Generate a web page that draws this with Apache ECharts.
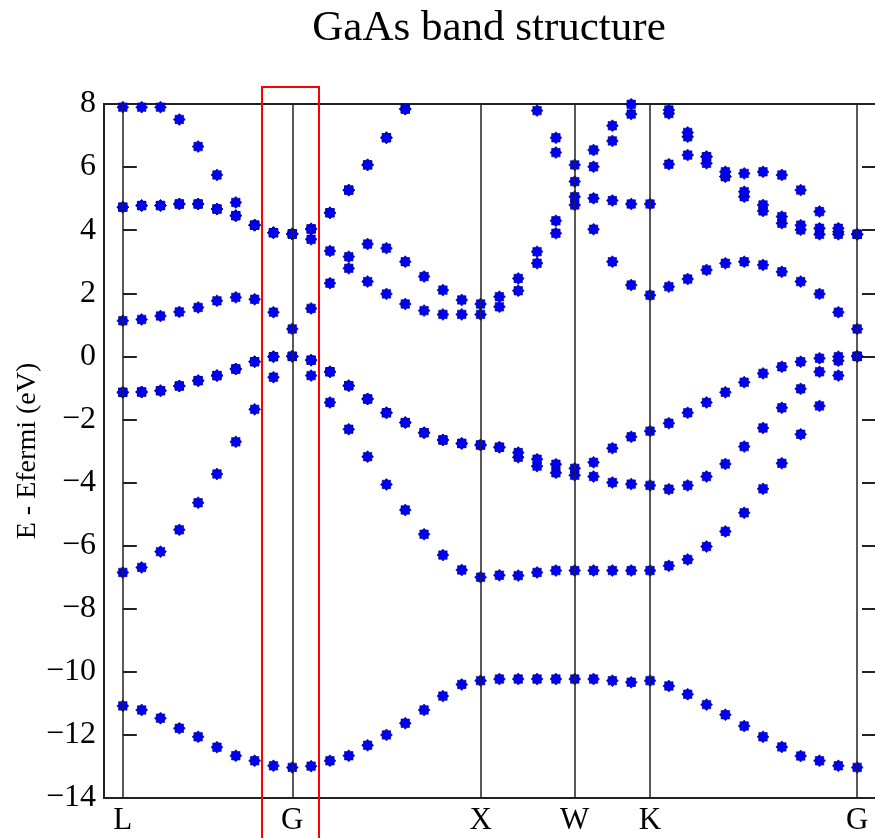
<!DOCTYPE html>
<html>
<head>
<meta charset="utf-8">
<title>GaAs band structure</title>
<script src="https://cdn.jsdelivr.net/npm/echarts@6/dist/echarts.min.js"></script>
<style>
  html, body { margin: 0; padding: 0; background: #fff; }
  #main { width: 875px; height: 838px; }
</style>
</head>
<body>
<div id="main"></div>
<script>
// k-point index along the path, high symmetry points
var symLabels = ['L', 'G', 'X', 'W', 'K', 'G'];
var symPos = [0, 9, 19, 24, 28, 39];
var yTicks = { min: -14, max: 8, step: 2 };

// energies (eV) per band, one value per k-point, null = off the chart
var band1 = [-11.08, -11.21, -11.47, -11.79, -12.06, -12.39, -12.66, -12.82, -12.98, -13.03,
  -12.99, -12.82, -12.66, -12.33, -12.00, -11.63, -11.21, -10.77, -10.40, -10.28,
  -10.23, -10.23, -10.23, -10.23, -10.23, -10.23, -10.28, -10.33, -10.28,
  -10.45, -10.71, -11.04, -11.36, -11.72, -12.06, -12.38, -12.67, -12.82, -12.98, -13.03];
var band2 = [-6.85, -6.69, -6.19, -5.50, -4.64, -3.73, -2.71, -1.68, -0.66, 0.00,
  -0.61, -1.46, -2.31, -3.18, -4.06, -4.87, -5.64, -6.30, -6.77, -7.00,
  -6.94, -6.95, -6.85, -6.79, -6.79, -6.79, -6.79, -6.79, -6.79,
  -6.64, -6.44, -6.03, -5.55, -4.96, -4.20, -3.39, -2.47, -1.57, -0.61, 0.00];
var band3 = [-1.14, -1.13, -1.09, -0.94, -0.77, -0.61, -0.40, -0.17, -0.01, 0.00,
  -0.12, -0.49, -0.93, -1.35, -1.79, -2.10, -2.42, -2.65, -2.76, -2.81,
  -2.88, -3.20, -3.48, -3.69, -3.77, -3.81, -4.00, -4.05, -4.09,
  -4.21, -4.09, -3.81, -3.41, -2.86, -2.27, -1.63, -1.03, -0.49, -0.14, 0.00];
var band4 = [-1.14, -1.13, -1.09, -0.94, -0.77, -0.61, -0.40, -0.17, -0.01, 0.00,
  -0.12, -0.49, -0.93, -1.35, -1.79, -2.10, -2.42, -2.65, -2.76, -2.81,
  -2.88, -3.05, -3.26, -3.42, -3.55, -3.36, -2.91, -2.55, -2.37,
  -2.12, -1.79, -1.46, -1.14, -0.82, -0.54, -0.33, -0.17, -0.06, -0.01, 0.00];
var band5 = [1.13, 1.17, 1.28, 1.41, 1.55, 1.76, 1.87, 1.81, 1.40, 0.87,
  1.52, 2.32, 2.79, 2.37, 1.98, 1.66, 1.45, 1.33, 1.33, 1.33,
  1.57, 2.08, 2.95, 3.90, 4.80, 4.03, 3.00, 2.26, 1.94,
  2.21, 2.45, 2.74, 2.95, 3.00, 2.90, 2.68, 2.37, 1.98, 1.40, 0.87];
var band6 = [4.73, 4.78, 4.78, 4.83, 4.83, 4.67, 4.46, 4.16, 3.92, 3.88,
  3.71, 3.34, 3.16, 3.56, 3.43, 3.00, 2.53, 2.10, 1.79, 1.66,
  1.89, 2.47, 3.32, 4.30, 5.06, 5.01, 4.94, 4.83, 4.83,
  6.09, 6.38, 6.12, 5.70, 5.06, 4.61, 4.22, 4.01, 3.87, 3.87, 3.87];
var band7 = [4.73, 4.78, 4.78, 4.83, 4.83, 4.67, 4.46, 4.16, 3.92, 3.88,
  4.04, 4.55, 5.27, 6.07, 6.93, 7.84, null, null, null, null,
  null, null, 7.79, 6.46, 5.54, 6.01, 6.83, 7.68, null,
  7.70, 6.96, 6.33, 5.70, 5.22, 4.80, 4.43, 4.16, 4.06, 3.95, 3.87];
var band8 = [7.90, 7.90, 7.90, 7.51, 6.65, 5.75, 4.88, 4.16, 3.92, 3.88,
  4.04, 4.55, 5.27, 6.07, 6.93, 7.84, null, null, null, null,
  null, null, null, 6.93, 6.07, 6.54, 7.31, 7.99, null,
  7.81, 7.10, 6.33, 5.85, 5.80, 5.85, 5.75, 5.27, 4.59, 4.06, 3.87];

var bands = [band1, band2, band3, band4, band5, band6, band7, band8];

var serif = '"Liberation Serif", "DejaVu Serif", serif';
var frameColor = '#222';
var starPath = 'path://M50,0L64.5,14.9L85.4,14.6L85.1,35.5L100,50L85.1,64.5L85.4,85.4L64.5,85.1L50,100L35.5,85.1L14.6,85.4L14.9,64.5L0,50L14.9,35.5L14.6,14.6L35.5,14.9Z';

function toPoints(values) {
  var pts = [];
  values.forEach(function (v, i) {
    if (v !== null) pts.push([i, v]);
  });
  return pts;
}

function fmtY(v) {
  return v < 0 ? '\u2212' + (-v) : String(v);
}

var series = [{
  type: 'scatter',
  data: [],
  z: 1,
  silent: true,
  markLine: {
    silent: true,
    symbol: ['none', 'none'],
    label: { show: false },
    lineStyle: { color: frameColor, width: 1.5, type: 'solid' },
    emphasis: { disabled: true },
    animation: false,
    data: symPos.map(function (p) { return { xAxis: p }; })
  }
}];

bands.forEach(function (b, n) {
  series.push({
    name: 'band' + (n + 1),
    type: 'scatter',
    z: 3,
    symbol: starPath,
    symbolSize: 12,
    itemStyle: { color: '#0000f0', borderColor: '#00007a', borderWidth: 0.6, opacity: 1 },
    data: toPoints(b)
  });
});

var chart = echarts.init(document.getElementById('main'), null, { renderer: 'canvas' });

chart.setOption({
  backgroundColor: '#fff',
  animation: false,
  grid: {
    left: 104,
    right: -1,
    top: 104,
    bottom: 40,
    outerBoundsMode: 'none',
    containLabel: false,
    show: true,
    borderColor: frameColor,
    borderWidth: 2
  },
  xAxis: {
    type: 'value',
    min: -1,
    max: 40,
    axisLine: { show: false },
    axisTick: { show: false },
    splitLine: { show: false },
    axisLabel: {
      customValues: symPos,
      formatter: function (v) {
        var k = symPos.indexOf(v);
        return k >= 0 ? symLabels[k] : '';
      },
      color: '#000',
      fontFamily: serif,
      fontSize: 31,
      margin: 7
    }
  },
  yAxis: [{
    type: 'value',
    min: yTicks.min,
    max: yTicks.max,
    interval: yTicks.step,
    name: 'E - Efermi (eV)',
    nameLocation: 'middle',
    nameRotate: 90,
    nameGap: 62,
    nameMoveOverlap: false,
    nameTextStyle: { color: '#000', fontFamily: serif, fontSize: 28 },
    axisLine: { show: false },
    axisTick: { show: true, inside: true, length: 14, lineStyle: { color: frameColor, width: 2 } },
    splitLine: { show: false },
    axisLabel: { color: '#000', fontFamily: serif, fontSize: 32, margin: 8, formatter: fmtY }
  }, {
    type: 'value',
    position: 'right',
    min: yTicks.min,
    max: yTicks.max,
    interval: yTicks.step,
    axisLine: { show: false },
    axisTick: { show: true, inside: true, length: 14, lineStyle: { color: frameColor, width: 2 } },
    splitLine: { show: false },
    axisLabel: { show: false }
  }],
  graphic: [{
    type: 'text',
    x: 489,
    y: 29,
    style: {
      text: 'GaAs band structure',
      fill: '#000',
      font: '43px ' + serif,
      textAlign: 'center',
      textVerticalAlign: 'middle'
    }
  }, {
    type: 'rect',
    shape: { x: 262, y: 87, width: 57, height: 800 },
    style: { fill: 'none', stroke: '#ff0000', lineWidth: 2 },
    z: 100
  }],
  series: series
});
</script>
</body>
</html>
